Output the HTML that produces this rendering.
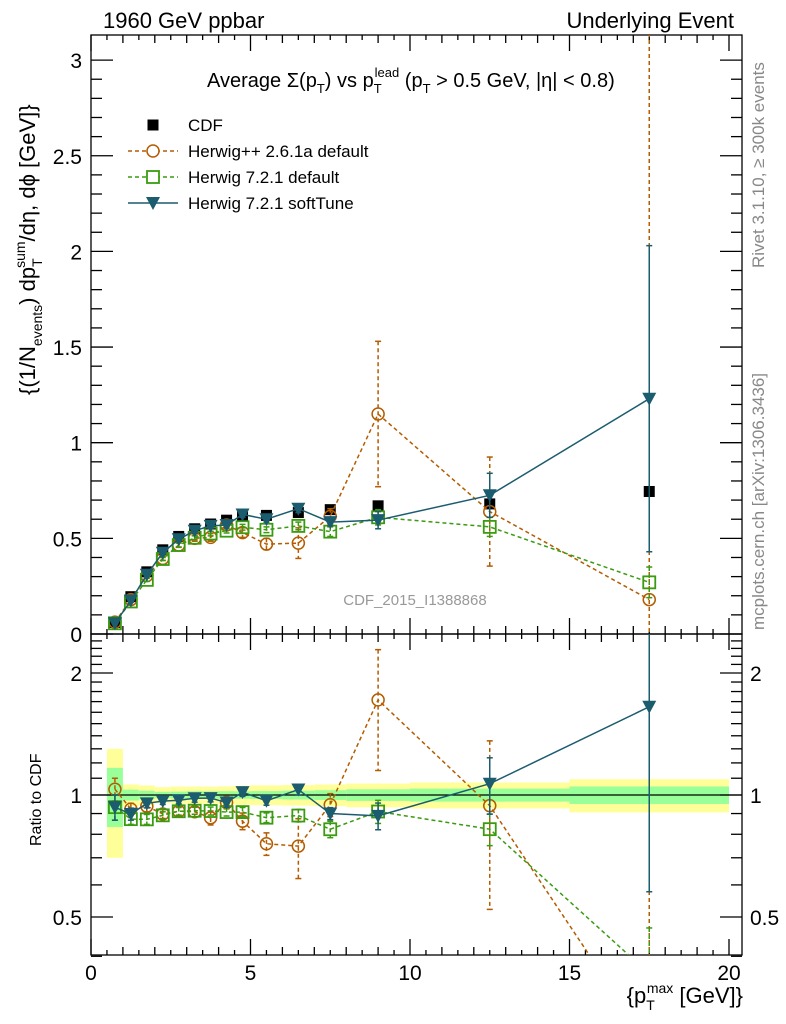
<!DOCTYPE html>
<html><head><meta charset="utf-8"><style>
html,body{margin:0;padding:0;background:#fff;width:786px;height:1024px;overflow:hidden;}
svg{display:block;font-family:"Liberation Sans",sans-serif;overflow:hidden;}
</style></head><body>
<svg id="chart" width="786" height="1024" viewBox="0 0 786 1024" xmlns="http://www.w3.org/2000/svg"></svg>
<script>
const binLo   = [0.5,1,1.5,2,2.5,3,3.5,4,4.5,5,6,7,8,10,15];
const binHi   = [1,1.5,2,2.5,3,3.5,4,4.5,5,6,7,8,10,15,20];
const xMid    = [0.75,1.25,1.75,2.25,2.75,3.25,3.75,4.25,4.75,5.5,6.5,7.5,9,12.5,17.5];
const cdfVal  = [0.060,0.195,0.325,0.440,0.510,0.550,0.575,0.595,0.615,0.620,0.635,0.650,0.670,0.680,0.745];
const cdfTotErr=[0.018,0.012,0.018,0.020,0.025,0.027,0.028,0.030,0.033,0.035,0.037,0.040,0.045,0.050,0.070];
const cdfStatErr=[0.010,0.006,0.008,0.008,0.010,0.012,0.012,0.013,0.013,0.014,0.016,0.018,0.022,0.025,0.037];
const hppVal  = [0.062,0.180,0.305,0.395,0.465,0.500,0.505,0.570,0.530,0.470,0.475,0.615,1.150,0.640,0.180];
const hppErr  = [0.004,0.006,0.010,0.010,0.012,0.015,0.020,0.020,0.025,0.030,0.080,0.040,0.380,0.285,3.000];
const h7Val   = [0.056,0.170,0.283,0.392,0.465,0.503,0.525,0.540,0.558,0.545,0.565,0.535,0.610,0.560,0.270];
const h7Err   = [0.004,0.005,0.008,0.008,0.010,0.010,0.012,0.012,0.015,0.015,0.020,0.025,0.040,0.050,0.080];
const stVal   = [0.056,0.175,0.310,0.425,0.495,0.540,0.565,0.570,0.625,0.600,0.655,0.585,0.595,0.725,1.230];
const stErr   = [0.004,0.006,0.008,0.008,0.010,0.012,0.012,0.015,0.015,0.015,0.020,0.020,0.045,0.115,0.800];
const mainTicks  = [0,0.5,1,1.5,2,2.5,3];
const mainTickLabels = ["0","0.5","1","1.5","2","2.5","3"];
const xTicks  = [0,5,10,15,20];
const ratioTicks = [0.5,1,2];

const NS="http://www.w3.org/2000/svg";
const svg=document.getElementById('chart');
const L=91,R=742,T=35,MB=634,RB=955;
const X=v=>L+(v-0)*31.9;
const Y=v=>MB-v*191.3;
const RY=r=>795-Math.log2(r)*122;
const clamp=(v,a,b)=>Math.max(a,Math.min(b,v));
function el(tag,attrs,parent){const e=document.createElementNS(NS,tag);for(const k in attrs)e.setAttribute(k,attrs[k]);(parent||svg).appendChild(e);return e;}
function txt(s,attrs,parent){const e=el('text',attrs,parent);e.textContent=s;return e;}

const defs=el('defs',{});
const c1=el('clipPath',{id:'cm'},defs);el('rect',{x:L,y:T,width:R-L,height:MB-T},c1);
const c2=el('clipPath',{id:'cr'},defs);el('rect',{x:L,y:MB,width:R-L,height:RB-MB},c2);

const bands=el('g',{'clip-path':'url(#cr)'});


for(let i=0;i<xMid.length;i++){
  const te=cdfTotErr[i]/cdfVal[i], se=cdfStatErr[i]/cdfVal[i];
  const b1=el('rect',{x:X(binLo[i]),width:X(binHi[i])-X(binLo[i]),y:RY(1+te),height:RY(1-te)-RY(1+te),fill:'#ffff99'},bands);
  
  
  const b2=el('rect',{x:X(binLo[i]),width:X(binHi[i])-X(binLo[i]),y:RY(1+se),height:RY(1-se)-RY(1+se),fill:'#99ff99'},bands);
  
  
}
el('line',{x1:L,x2:R,y1:RY(1),y2:RY(1),stroke:'#000','stroke-width':1.3});

const ax=el('g',{stroke:'#000','stroke-width':1.3,fill:'none'});


el('rect',{x:L,y:T,width:R-L,height:MB-T},ax);
el('rect',{x:L,y:MB,width:R-L,height:RB-MB},ax);
for(let v=0;v<=20.4;v+=0.5){
  const maj=Math.abs(v%5)<1e-6, mid=Math.abs(v%1)<1e-6;
  const len=maj?16:(mid?8:5);
  [T,MB,RB].forEach((y,k)=>{
    if(k!==1){const d=k===0?1:-1;el('line',{x1:X(v),x2:X(v),y1:y,y2:y+d*len},ax);}
    else{el('line',{x1:X(v),x2:X(v),y1:y,y2:y-len},ax);el('line',{x1:X(v),x2:X(v),y1:y,y2:y+len},ax);}
  });
}
for(let v=0;v<=3.1;v+=0.1){
  const maj=Math.abs(v*2-Math.round(v*2))<1e-6;const len=maj?22:11;
  el('line',{x1:L,x2:L+len,y1:Y(v),y2:Y(v)},ax);el('line',{x1:R,x2:R-len,y1:Y(v),y2:Y(v)},ax);
}
for(let v=0.4;v<=2.5;v+=0.1){
  const r=Math.round(v*10)/10;const maj=ratioTicks.includes(r);const len=maj?22:11;
  el('line',{x1:L,x2:L+len,y1:RY(r),y2:RY(r)},ax);el('line',{x1:R,x2:R-len,y1:RY(r),y2:RY(r)},ax);
}
mainTicks.forEach((v,i)=>{const t=txt(mainTickLabels[i],{x:L-9,y:Y(v)+8,'font-size':21,'text-anchor':'end'});
  
  });
ratioTicks.forEach(v=>{
  const t=txt(String(v),{x:L-9,y:RY(v)+8,'font-size':21,'text-anchor':'end'});
  
  
  const t2=txt(String(v),{x:R+8,y:RY(v)+8,'font-size':21});
  
  
});
xTicks.forEach(v=>{const t=txt(String(v),{x:X(v),y:980,'font-size':21,'text-anchor':'middle'});
  
  });

function series(vals,errs,color,dash,marker,name,ratio){
  const g=el('g',{'clip-path':ratio?'url(#cr)':'url(#cm)'});
  
  
  const lo=ratio?MB-2:T-2, hi=ratio?RB+2:MB+2;
  const ys=vals.map((v,i)=>ratio?RY(v/cdfVal[i]):Y(v));
  const eh=(i,s)=>clamp(ratio?RY(Math.max(0.01,(vals[i]+s*errs[i]))/cdfVal[i]):Y(vals[i]+s*errs[i]),lo,hi);
  if(errs){for(let i=0;i<vals.length;i++){
    const yt=eh(i,1),yb=eh(i,-1);
    el('line',{x1:X(xMid[i]),x2:X(xMid[i]),y1:yt,y2:yb,stroke:color,'stroke-width':1.5,'stroke-dasharray':dash||'none'},g);
    el('line',{x1:X(xMid[i])-3,x2:X(xMid[i])+3,y1:yt,y2:yt,stroke:color,'stroke-width':1.5},g);
    el('line',{x1:X(xMid[i])-3,x2:X(xMid[i])+3,y1:yb,y2:yb,stroke:color,'stroke-width':1.5},g);
  }}
  if(marker!=='sq'){
    el('polyline',{points:xMid.map((x,i)=>X(x)+','+ys[i]).join(' '),fill:'none',stroke:color,'stroke-width':1.5,'stroke-dasharray':dash||'none'},g);
  }
  for(let i=0;i<vals.length;i++){
    const x=X(xMid[i]),y=ys[i];let m;
    if(marker==='sq')m=el('rect',{x:x-5.5,y:y-5.5,width:11,height:11,fill:'#000'},g);
    else if(marker==='circ')m=el('circle',{cx:x,cy:y,r:6,fill:'none',stroke:color,'stroke-width':1.5},g);
    else if(marker==='osq')m=el('rect',{x:x-6,y:y-6,width:12,height:12,fill:'none',stroke:color,'stroke-width':1.8},g);
    else m=el('polygon',{points:`${x-7},${y-6} ${x+7},${y-6} ${x},${y+7}`,fill:color},g);
    
    
  }
}
series(cdfVal,null,'#000',null,'sq','cdf-data',false);
series(hppVal,hppErr,'#b35c00','4,3','circ','herwigpp-261a',false);
series(h7Val,h7Err,'#3a9b10','4,3','osq','herwig721-default',false);
series(stVal,stErr,'#1b5c6e',null,'tri','herwig721-softtune',false);
series(hppVal,hppErr,'#b35c00','4,3','circ','herwigpp-261a',true);
series(h7Val,h7Err,'#3a9b10','4,3','osq','herwig721-default',true);
series(stVal,stErr,'#1b5c6e',null,'tri','herwig721-softtune',true);

const t1=txt('1960 GeV ppbar',{x:103,y:28,'font-size':22});

const t2=txt('Underlying Event',{x:734,y:28,'font-size':22,'text-anchor':'end'});

const tt=el('text',{x:207,y:87,'font-size':20});

tt.innerHTML='Average Σ(p<tspan font-size="13" dy="6">T</tspan><tspan dy="-6">) vs p</tspan><tspan font-size="13" dy="6">T</tspan><tspan font-size="13" dx="-7" dy="-16">lead</tspan><tspan dy="10"> (p</tspan><tspan font-size="13" dy="6">T</tspan><tspan dy="-6"> &gt; 0.5 GeV, |η| &lt; 0.8)</tspan>';
const wm=txt('CDF_2015_I1388868',{x:415,y:605,'font-size':15,fill:'#999','text-anchor':'middle'});

const r1=txt('Rivet 3.1.10, ≥ 300k events',{x:0,y:0,'font-size':17,fill:'#888',transform:'translate(764,268) rotate(-90)'});

const r2=txt('mcplots.cern.ch [arXiv:1306.3436]',{x:0,y:0,'font-size':17,fill:'#888',transform:'translate(764,630) rotate(-90)'});

const yl=el('text',{x:0,y:0,'font-size':22,transform:'translate(35,395) rotate(-90)'});

yl.innerHTML='{(1/N<tspan font-size="14" dy="7">events</tspan><tspan dy="-7">) dp</tspan><tspan font-size="14" dy="7">T</tspan><tspan font-size="14" dx="-8" dy="-17">sum</tspan><tspan dy="10">/dη, dϕ [GeV]}</tspan>';
const rl=txt('Ratio to CDF',{x:0,y:0,'font-size':16,transform:'translate(41,846) rotate(-90)'});

const xl=el('text',{x:743,y:1003,'font-size':22,'text-anchor':'end'});

xl.innerHTML='{p<tspan font-size="14" dy="7">T</tspan><tspan font-size="14" dx="-8" dy="-17">max</tspan><tspan dy="10"> [GeV]}</tspan>';

const lg=el('g',{});

const ent=[['CDF','sq','#000',null],['Herwig++ 2.6.1a default','circ','#b35c00','4,3'],['Herwig 7.2.1 default','osq','#3a9b10','4,3'],['Herwig 7.2.1 softTune','tri','#1b5c6e',null]];
ent.forEach((e,i)=>{
  const y=125+i*26, cx=153;
  const g=el('g',{},lg);
  
  if(e[1]!=='sq')el('line',{x1:128,x2:178,y1:y,y2:y,stroke:e[2],'stroke-width':1.5,'stroke-dasharray':e[3]||'none'},g);
  if(e[1]==='sq')el('rect',{x:cx-5.5,y:y-5.5,width:11,height:11,fill:'#000'},g);
  else if(e[1]==='circ')el('circle',{cx:cx,cy:y,r:6,fill:'#fff',stroke:e[2],'stroke-width':1.5},g);
  else if(e[1]==='osq')el('rect',{x:cx-6,y:y-6,width:12,height:12,fill:'#fff',stroke:e[2],'stroke-width':1.8},g);
  else el('polygon',{points:`${cx-7},${y-6} ${cx+7},${y-6} ${cx},${y+7}`,fill:e[2]},g);
  txt(e[0],{x:188,y:y+6,'font-size':17},g);
});
</script>
</body></html>
